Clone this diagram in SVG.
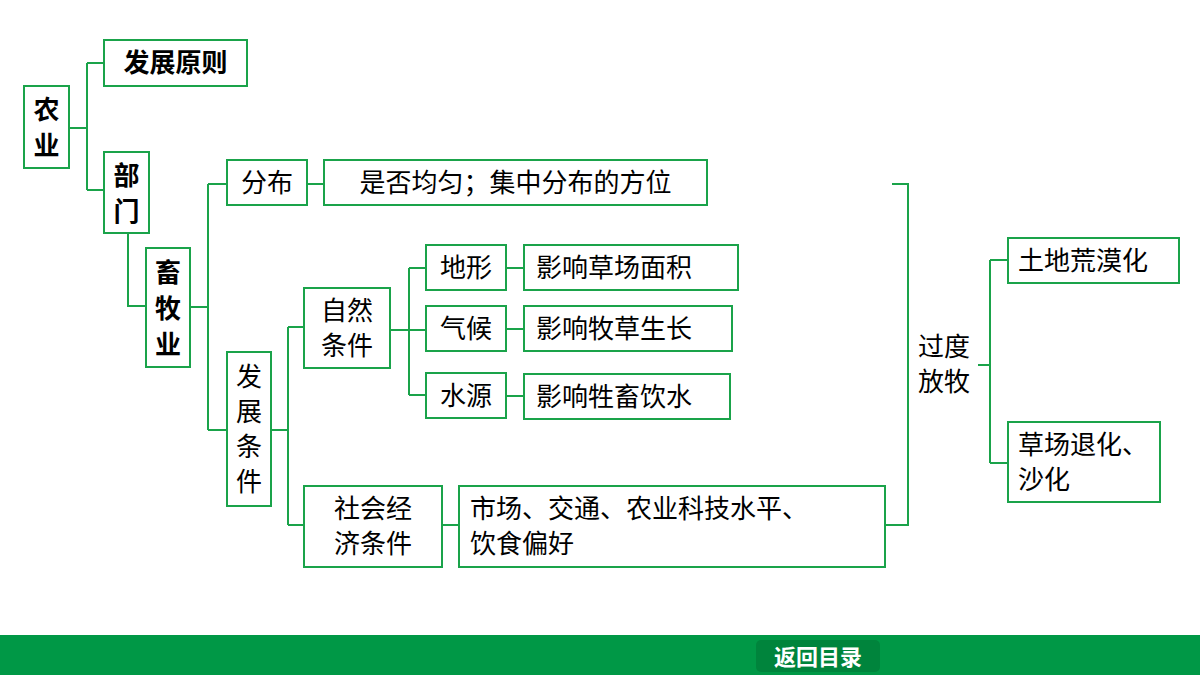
<svg xmlns="http://www.w3.org/2000/svg" width="1200" height="675" viewBox="0 0 1200 675">
<style>
.b{fill:#fff;stroke:#1aa34a;stroke-width:2}
.t{font-family:"Noto Sans CJK SC","Noto Sans",sans-serif;font-size:26px;fill:#000}
.bd{font-weight:bold}
.c{fill:none;stroke:#1aa34a;stroke-width:2}
</style>
<rect width="1200" height="675" fill="#fff"/>
<g id="connectors">
<path class="c" d="M69,128H87M87,63V190M87,63H104M87,190H104"/>
<path class="c" d="M128,233V306H146"/>
<path class="c" d="M190,307H208M208,184V430M208,184H227M208,430H227"/>
<path class="c" d="M307,184H324"/>
<path class="c" d="M271,430H288M288,327V525M288,327H304M288,525H304"/>
<path class="c" d="M390,330H409M409,268V395M409,268H426M409,330H426M409,395H426"/>
<path class="c" d="M506,268H524M506,329H524M506,396H524"/>
<path class="c" d="M442,525H459"/>
<path class="c" d="M885,525H908V184H892"/>
<path class="c" d="M978,365H990M990,260V463M990,260H1008M990,463H1008"/>
</g>
<g id="n1"><rect class="b" x="24" y="86" width="45" height="82"/><text class="t bd" x="46.5" y="119" text-anchor="middle">农</text><text class="t bd" x="46.5" y="155" text-anchor="middle">业</text></g>
<g id="n2"><rect class="b" x="104" y="40" width="143" height="46"/><text class="t bd" x="175.5" y="72" text-anchor="middle">发展原则</text></g>
<g id="n3"><rect class="b" x="104" y="152" width="45" height="81"/><text class="t bd" x="126.5" y="185" text-anchor="middle">部</text><text class="t bd" x="126.5" y="221" text-anchor="middle">门</text></g>
<g id="n4"><rect class="b" x="146" y="248" width="44" height="119"/><text class="t bd" x="168" y="282" text-anchor="middle">畜</text><text class="t bd" x="168" y="318" text-anchor="middle">牧</text><text class="t bd" x="168" y="354" text-anchor="middle">业</text></g>
<g id="n5"><rect class="b" x="227" y="160" width="80" height="45"/><text class="t" x="267" y="192" text-anchor="middle">分布</text></g>
<g id="n6"><rect class="b" x="324" y="160" width="383" height="45"/><text class="t" x="515.5" y="192" text-anchor="middle">是否均匀；集中分布的方位</text></g>
<g id="n7"><rect class="b" x="227" y="352" width="44" height="154"/><text class="t" x="249" y="386" text-anchor="middle">发</text><text class="t" x="249" y="421" text-anchor="middle">展</text><text class="t" x="249" y="456" text-anchor="middle">条</text><text class="t" x="249" y="491" text-anchor="middle">件</text></g>
<g id="n8"><rect class="b" x="304" y="288" width="86" height="80"/><text class="t" x="347" y="320" text-anchor="middle">自然</text><text class="t" x="347" y="355" text-anchor="middle">条件</text></g>
<g id="n9"><rect class="b" x="426" y="245" width="80" height="45"/><text class="t" x="466" y="277" text-anchor="middle">地形</text></g>
<g id="n10"><rect class="b" x="426" y="306" width="80" height="45"/><text class="t" x="466" y="338" text-anchor="middle">气候</text></g>
<g id="n11"><rect class="b" x="426" y="373" width="80" height="45"/><text class="t" x="466" y="405" text-anchor="middle">水源</text></g>
<g id="n12"><rect class="b" x="524" y="245" width="214" height="45"/><text class="t" x="536" y="277">影响草场面积</text></g>
<g id="n13"><rect class="b" x="524" y="306" width="208" height="45"/><text class="t" x="536" y="338">影响牧草生长</text></g>
<g id="n14"><rect class="b" x="524" y="374" width="206" height="45"/><text class="t" x="536" y="406">影响牲畜饮水</text></g>
<g id="n15"><rect class="b" x="304" y="486" width="138" height="81"/><text class="t" x="373" y="518" text-anchor="middle">社会经</text><text class="t" x="373" y="553" text-anchor="middle">济条件</text></g>
<g id="n16"><rect class="b" x="459" y="486" width="426" height="81"/><text class="t" x="470" y="518">市场、交通、农业科技水平、</text><text class="t" x="470" y="553">饮食偏好</text></g>
<g id="n17"><text class="t" x="918" y="356">过度</text><text class="t" x="918" y="391">放牧</text></g>
<g id="n18"><rect class="b" x="1008" y="238" width="171" height="45"/><text class="t" x="1018" y="270">土地荒漠化</text></g>
<g id="n19"><rect class="b" x="1008" y="422" width="152" height="80"/><text class="t" x="1018" y="454">草场退化、</text><text class="t" x="1018" y="489">沙化</text></g>
<rect x="0" y="635" width="1200" height="40" fill="#009846"/>
<rect x="756" y="640" width="124" height="32" rx="5" fill="#00843c"/>
<text x="818" y="665" text-anchor="middle" font-family="Noto Sans CJK SC,sans-serif" font-size="22" font-weight="bold" fill="#fff">返回目录</text>
</svg>
